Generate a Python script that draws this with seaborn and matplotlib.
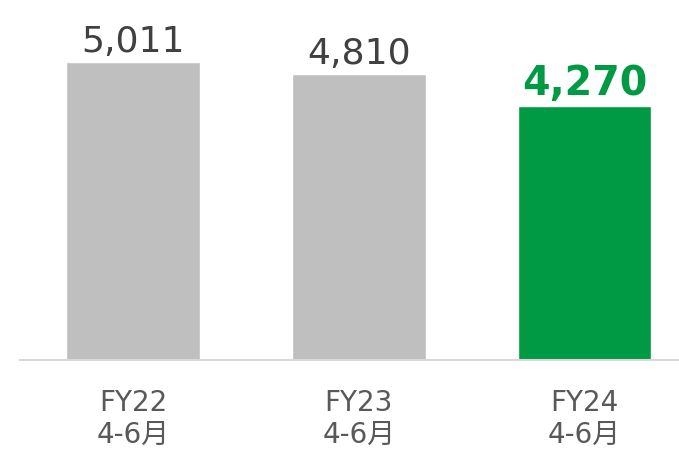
import matplotlib
matplotlib.use("Agg")
import matplotlib.pyplot as plt
import seaborn as sns
import pandas as pd

categories = ["FY22\n4-6月", "FY23\n4-6月", "FY24\n4-6月"]
values = [5011, 4810, 4270]
bar_colors = ["#BFBFBF", "#BFBFBF", "#009A44"]
label_colors = ["#404040", "#404040", "#009A44"]
label_weights = ["normal", "normal", "bold"]
label_sizes = [26, 26, 28.5]

sns.set_theme(style="white")
plt.rcParams["font.family"] = ["DejaVu Sans", "Noto Sans CJK JP"]

df = pd.DataFrame({"cat": categories, "val": values})

fig = plt.figure(figsize=(6.79, 4.6), dpi=100)
ax = fig.add_axes([20 / 679, 99 / 460, 659 / 679, 361 / 460])

sns.barplot(data=df, x="cat", y="val", hue="cat", palette=bar_colors,
            width=0.593, legend=False, saturation=1, ax=ax)

ax.set_xlim(-0.5006, 2.419)
ax.set_ylim(0, 6067)
ax.set_xlabel("")
ax.set_ylabel("")
ax.set_yticks([])
for s in ["top", "right", "left"]:
    ax.spines[s].set_visible(False)
ax.spines["bottom"].set_color("#D9D9D9")
ax.spines["bottom"].set_linewidth(1.5)
ax.tick_params(axis="x", length=0, pad=20, labelsize=20, labelcolor="#595959")
for t in ax.get_xticklabels():
    t.set_linespacing(1.2)

# value labels above the bars
for i, v in enumerate(values):
    ax.annotate(f"{v:,}", (i, v), xytext=(0, 8 if i < 2 else 8.5),
                textcoords="offset points", ha="center", va="baseline",
                color=label_colors[i], fontsize=label_sizes[i],
                fontweight=label_weights[i])

fig.savefig("out.png", dpi=100)
